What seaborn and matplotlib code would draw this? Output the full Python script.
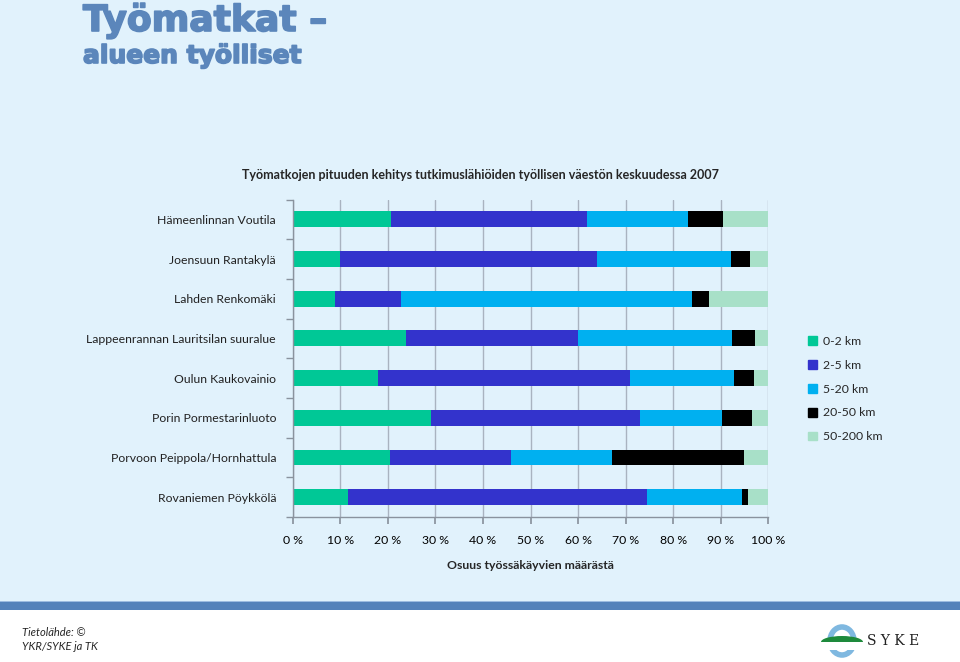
import numpy as np
import pandas as pd
import matplotlib.pyplot as plt
import matplotlib.patches as mpatches
import matplotlib.patheffects as pe
import seaborn as sns

# Data
alueet = [
    "Hämeenlinnan Voutila",
    "Joensuun Rantakylä",
    "Lahden Renkomäki",
    "Lappeenrannan Lauritsilan suuralue",
    "Oulun Kaukovainio",
    "Porin Pormestarinluoto",
    "Porvoon Peippola/Hornhattula",
    "Rovaniemen Pöykkölä",
]
luokat = ["0-2 km", "2-5 km", "5-20 km", "20-50 km", "50-200 km"]
km_0_2 = [20.6, 10.0, 8.9, 23.8, 17.9, 29.1, 20.4, 11.6]
km_2_5 = [41.2, 53.9, 13.9, 36.1, 53.0, 43.9, 25.5, 62.8]
km_5_20 = [21.3, 28.3, 61.2, 32.5, 21.9, 17.3, 21.3, 20.0]
km_20_50 = [7.3, 3.9, 3.5, 4.7, 4.2, 6.2, 27.7, 1.3]
km_50_200 = [9.6, 3.9, 12.5, 2.9, 3.0, 3.5, 5.1, 4.3]
x_ticks = list(range(0, 101, 10))

varit = ["#00C896", "#3333CC", "#00B0F0", "#000000", "#A8E0C8"]
tausta = "#E1F2FC"
otsikko_vari = "#5B86BB"

sns.set_theme(style="white")
plt.rcParams["font.family"] = ["Lato", "DejaVu Sans"]

df = pd.DataFrame(
    {"alue": alueet, "0-2 km": km_0_2, "2-5 km": km_2_5, "5-20 km": km_5_20,
     "20-50 km": km_20_50, "50-200 km": km_50_200}
)
kum = df[luokat].cumsum(axis=1)
kum["alue"] = df["alue"]

fig = plt.figure(figsize=(9.6, 6.62), dpi=100)
fig.patch.set_facecolor(tausta)
ax = fig.add_axes([292.7 / 960, 1 - 517 / 662, 475.6 / 960, (517 - 199.5) / 662])
ax.set_facecolor(tausta)

# gridlines under bars
for v in x_ticks:
    ax.axvline(v, color="#A9B3C0", lw=1.0, zorder=0)

# stacked bars: draw cumulative sums from the back
for luokka, vari in reversed(list(zip(luokat, varit))):
    sns.barplot(data=kum, x=luokka, y="alue", orient="h", color=vari,
                width=0.4, saturation=1, linewidth=0, ax=ax, zorder=2)

ax.set_xlim(0, 100)
ax.set_ylim(7.5, -0.5)
ax.set_xticks(x_ticks)
ax.set_xticklabels([f"{v} %" for v in x_ticks], fontsize=8.8, color="#000000")
ax.set_yticks(range(len(alueet)))
ax.set_yticklabels(alueet, fontsize=8.8, color="#222222")
ax.set_yticks(np.arange(-0.5, 8.0, 1.0), minor=True)
ax.tick_params(axis="y", which="major", length=0, pad=12)
ax.tick_params(axis="y", which="minor", length=5, color="#8A939E", direction="out", left=True)
ax.tick_params(axis="x", length=5, color="#8A939E", direction="out", bottom=True, pad=8)
ax.set_xlabel("Osuus työssäkäyvien määrästä", fontsize=8.8, fontweight="bold", labelpad=10)
ax.set_ylabel("")
for s in ["top", "right"]:
    ax.spines[s].set_visible(False)
for s in ["left", "bottom"]:
    ax.spines[s].set_color("#8A939E")
    ax.spines[s].set_linewidth(1.0)

# legend
kahvat = [mpatches.Patch(color=v, label=l) for l, v in zip(luokat, varit)]
fig.legend(handles=kahvat, loc="upper left", bbox_to_anchor=(797 / 960, 1 - 325 / 662),
           frameon=False, fontsize=8.8, handlelength=0.7, handleheight=0.7,
           handletextpad=0.5, labelspacing=1.05)

# titles
fig.text(480 / 960, 1 - 175 / 662,
         "Työmatkojen pituuden kehitys tutkimuslähiöiden työllisen väestön keskuudessa 2007",
         ha="center", va="center", fontsize=9, fontweight="bold")
paksu = [pe.withStroke(linewidth=1.2, foreground=otsikko_vari)]
fig.text(83 / 960, 1 - 31 / 662, "Työmatkat –", ha="left", va="baseline",
         fontsize=26, fontweight="bold", color=otsikko_vari, family=["DejaVu Sans"],
         path_effects=paksu)
fig.text(83 / 960, 1 - 63 / 662, "alueen työlliset", ha="left", va="baseline",
         fontsize=18, fontweight="bold", color=otsikko_vari, family=["DejaVu Sans"],
         path_effects=paksu)

# footer band
fig.patches.append(mpatches.Rectangle((0, 0), 1, 1 - 610 / 662, transform=fig.transFigure,
                                      facecolor="white", edgecolor="none", zorder=0))
fig.patches.append(mpatches.Rectangle((0, 1 - 610 / 662), 1, 8 / 662, transform=fig.transFigure,
                                      facecolor="#5482BA", edgecolor="none", zorder=1))
fig.patches.append(mpatches.Rectangle((0, 1 - 602 / 662), 1, 1.5 / 662, transform=fig.transFigure,
                                      facecolor="#9DBCE0", edgecolor="none", zorder=1))
fig.text(22 / 960, 1 - 632 / 662, "Tietolähde: ©", ha="left", va="center",
         fontsize=8, style="italic")
fig.text(22 / 960, 1 - 646 / 662, "YKR/SYKE ja TK", ha="left", va="center",
         fontsize=8, style="italic")

# logo
lx, ly = 842 / 960, 1 - 641 / 662
fig.patches.append(mpatches.Ellipse((lx, ly), 24 / 960, 28 / 662, transform=fig.transFigure,
                                    facecolor="none", edgecolor="#7FB8E0", lw=4, zorder=2))
fig.patches.append(mpatches.Ellipse((lx, ly - 1 / 662), 42 / 960, 12 / 662, transform=fig.transFigure,
                                    facecolor="#1E8A3C", edgecolor="none", zorder=3))
fig.patches.append(mpatches.Rectangle((lx - 22 / 960, ly - 9 / 662), 44 / 960, 8 / 662,
                                      transform=fig.transFigure, facecolor="white",
                                      edgecolor="none", zorder=3))
fig.text(893 / 960, ly, "S Y K E", ha="center", va="center", fontsize=10,
         family=["DejaVu Serif"], color="#222222")

fig.savefig("out.png", dpi=100, facecolor=fig.get_facecolor())
